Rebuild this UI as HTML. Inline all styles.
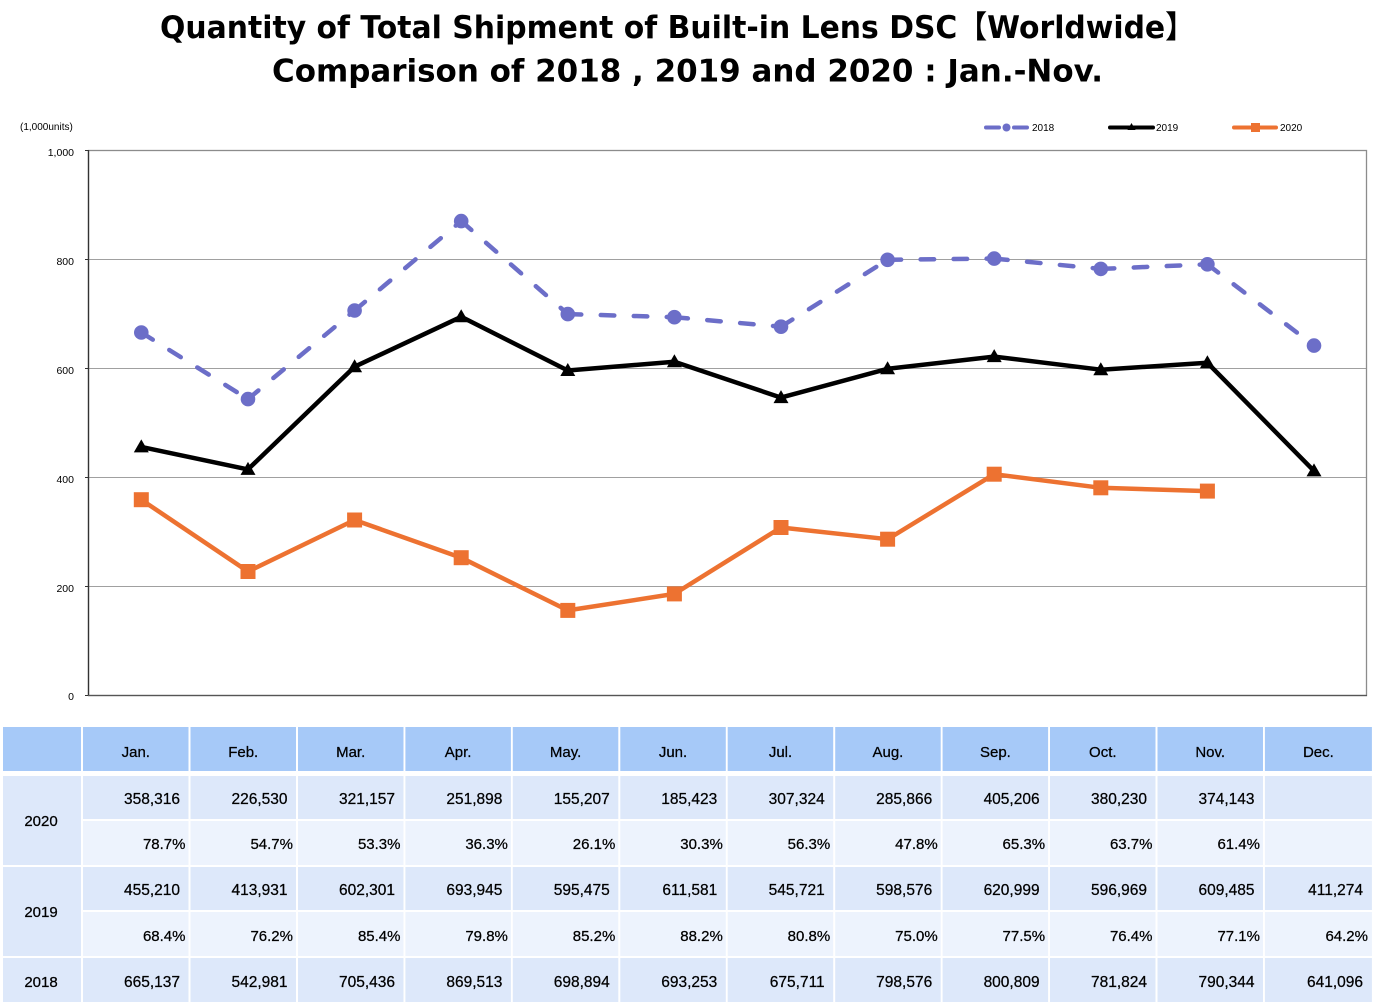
<!DOCTYPE html>
<html>
<head>
<meta charset="utf-8">
<style>
html,body{margin:0;padding:0;background:#fff;}
svg{display:block;}
</style>
</head>
<body>
<svg width="1380" height="1006" viewBox="0 0 1380 1006" xmlns="http://www.w3.org/2000/svg">
<rect x="0" y="0" width="1380" height="1006" fill="#fff"/>
<!-- Title -->
<text x="160" y="38" font-family="'DejaVu Sans','Noto Sans CJK JP',sans-serif" font-weight="bold" font-size="31" textLength="1035" lengthAdjust="spacingAndGlyphs" fill="#000">Quantity of Total Shipment of Built-in Lens DSC【Worldwide】</text>
<text x="272" y="81.5" font-family="'DejaVu Sans','Noto Sans CJK JP',sans-serif" font-weight="bold" font-size="31" textLength="831" lengthAdjust="spacingAndGlyphs" fill="#000">Comparison of 2018 , 2019 and 2020 : Jan.-Nov.</text>

<!-- unit label -->
<text x="20" y="130" font-family="'Liberation Sans',sans-serif" font-size="10" fill="#000">(1,000units)</text>

<!-- Legend -->
<g>
  <line x1="986" y1="127.5" x2="999" y2="127.5" stroke="#6c6ec8" stroke-width="4" stroke-linecap="round"/>
  <line x1="1014" y1="127.5" x2="1027" y2="127.5" stroke="#6c6ec8" stroke-width="4" stroke-linecap="round"/>
  <circle cx="1006.5" cy="127.5" r="4" fill="#6c6ec8"/>
  <text x="1032" y="131" font-family="'Liberation Sans',sans-serif" font-size="10" fill="#000">2018</text>
  <line x1="1110" y1="127.5" x2="1153" y2="127.5" stroke="#000" stroke-width="4" stroke-linecap="round"/>
  <polygon points="1131.5,123 1135.5,130 1127.5,130" fill="#000"/>
  <text x="1156" y="131" font-family="'Liberation Sans',sans-serif" font-size="10" fill="#000">2019</text>
  <line x1="1234" y1="127.5" x2="1276" y2="127.5" stroke="#ed7231" stroke-width="4" stroke-linecap="round"/>
  <rect x="1251" y="123" width="9" height="9" fill="#ed7231"/>
  <text x="1280" y="131" font-family="'Liberation Sans',sans-serif" font-size="10" fill="#000">2020</text>
</g>

<!-- Gridlines -->
<g stroke="#a0a0a0" stroke-width="1">
  <line x1="88" y1="259.5" x2="1367" y2="259.5"/>
  <line x1="88" y1="368.5" x2="1367" y2="368.5"/>
  <line x1="88" y1="477.5" x2="1367" y2="477.5"/>
  <line x1="88" y1="586.5" x2="1367" y2="586.5"/>
</g>
<!-- Plot border -->
<rect x="88.5" y="150.5" width="1278" height="545" fill="none" stroke="#8c8c8c" stroke-width="1.3"/>
<line x1="88.5" y1="150" x2="88.5" y2="696" stroke="#333" stroke-width="1.3"/>
<line x1="88" y1="695.5" x2="1367" y2="695.5" stroke="#555" stroke-width="1.3"/>
<g stroke="#333" stroke-width="1">
  <line x1="85" y1="150.5" x2="88" y2="150.5"/>
  <line x1="85" y1="259.5" x2="88" y2="259.5"/>
  <line x1="85" y1="368.5" x2="88" y2="368.5"/>
  <line x1="85" y1="477.5" x2="88" y2="477.5"/>
  <line x1="85" y1="586.5" x2="88" y2="586.5"/>
  <line x1="85" y1="695.5" x2="88" y2="695.5"/>
</g>

<!-- Y labels -->
<g font-family="'Liberation Sans',sans-serif" font-size="10.5" fill="#000" text-anchor="end">
  <text x="74" y="156">1,000</text>
  <text x="74" y="265">800</text>
  <text x="74" y="374">600</text>
  <text x="74" y="483">400</text>
  <text x="74" y="592">200</text>
  <text x="74" y="700">0</text>
</g>

<!-- 2018 dashed series (per segment) -->
<g stroke="#6c6ec8" stroke-width="4.5" stroke-linecap="round" stroke-dasharray="13.5 19.5" fill="none">
  <line x1="141.3" y1="332.5" x2="248" y2="399.1"/>
  <line x1="248" y1="399.1" x2="354.6" y2="310.5"/>
  <line x1="354.6" y1="310.5" x2="461.2" y2="221.1"/>
  <line x1="461.2" y1="221.1" x2="567.8" y2="314.1"/>
  <line x1="567.8" y1="314.1" x2="674.4" y2="317.2"/>
  <line x1="674.4" y1="317.2" x2="781" y2="326.7"/>
  <line x1="781" y1="326.7" x2="887.6" y2="259.8"/>
  <line x1="887.6" y1="259.8" x2="994.2" y2="258.6"/>
  <line x1="994.2" y1="258.6" x2="1100.8" y2="268.9"/>
  <line x1="1100.8" y1="268.9" x2="1207.4" y2="264.3"/>
  <line x1="1207.4" y1="264.3" x2="1314" y2="345.6"/>
</g>
<g fill="#6c6ec8">
  <circle cx="141.3" cy="332.5" r="7.3"/>
  <circle cx="248" cy="399.1" r="7.3"/>
  <circle cx="354.6" cy="310.5" r="7.3"/>
  <circle cx="461.2" cy="221.1" r="7.3"/>
  <circle cx="567.8" cy="314.1" r="7.3"/>
  <circle cx="674.4" cy="317.2" r="7.3"/>
  <circle cx="781" cy="326.7" r="7.3"/>
  <circle cx="887.6" cy="259.8" r="7.3"/>
  <circle cx="994.2" cy="258.6" r="7.3"/>
  <circle cx="1100.8" cy="268.9" r="7.3"/>
  <circle cx="1207.4" cy="264.3" r="7.3"/>
  <circle cx="1314" cy="345.6" r="7.3"/>
</g>

<!-- 2019 series -->
<polyline fill="none" stroke="#000" stroke-width="4.5" stroke-linejoin="round" points="141.3,446.9 248,469.4 354.6,366.7 461.2,316.8 567.8,370.5 674.4,361.7 781,397.6 887.6,368.8 994.2,356.6 1100.8,369.7 1207.4,362.8 1314,470.9"/>
<g fill="#000">
  <polygon points="141.3,439.4 148.8,452.4 133.8,452.4"/>
  <polygon points="248,461.9 255.5,474.9 240.5,474.9"/>
  <polygon points="354.6,359.2 362.1,372.2 347.1,372.2"/>
  <polygon points="461.2,309.3 468.7,322.3 453.7,322.3"/>
  <polygon points="567.8,363 575.3,376 560.3,376"/>
  <polygon points="674.4,354.2 681.9,367.2 666.9,367.2"/>
  <polygon points="781,390.1 788.5,403.1 773.5,403.1"/>
  <polygon points="887.6,361.3 895.1,374.3 880.1,374.3"/>
  <polygon points="994.2,349.1 1001.7,362.1 986.7,362.1"/>
  <polygon points="1100.8,362.2 1108.3,375.2 1093.3,375.2"/>
  <polygon points="1207.4,355.3 1214.9,368.3 1199.9,368.3"/>
  <polygon points="1314,463.4 1321.5,476.4 1306.5,476.4"/>
</g>

<!-- 2020 series -->
<polyline fill="none" stroke="#ed7231" stroke-width="4.5" stroke-linejoin="round" points="141.3,499.7 248,571.5 354.6,520 461.2,557.7 567.8,610.4 674.4,593.9 781,527.5 887.6,539.2 994.2,474.2 1100.8,487.8 1207.4,491.1"/>
<g fill="#ed7231">
  <rect x="133.8" y="492.2" width="15" height="15"/>
  <rect x="240.5" y="564" width="15" height="15"/>
  <rect x="347.1" y="512.5" width="15" height="15"/>
  <rect x="453.7" y="550.2" width="15" height="15"/>
  <rect x="560.3" y="602.9" width="15" height="15"/>
  <rect x="666.9" y="586.4" width="15" height="15"/>
  <rect x="773.5" y="520" width="15" height="15"/>
  <rect x="880.1" y="531.7" width="15" height="15"/>
  <rect x="986.7" y="466.7" width="15" height="15"/>
  <rect x="1093.3" y="480.3" width="15" height="15"/>
  <rect x="1199.9" y="483.6" width="15" height="15"/>
</g>

<!-- TABLE -->
<g fill="#a6c9f8">
  <rect x="3" y="727" width="78" height="44"/>
  <rect x="83" y="727" width="105.5" height="44"/>
  <rect x="190.5" y="727" width="105.5" height="44"/>
  <rect x="298" y="727" width="105.5" height="44"/>
  <rect x="405.4" y="727" width="105.5" height="44"/>
  <rect x="512.8" y="727" width="105.5" height="44"/>
  <rect x="620.3" y="727" width="105.5" height="44"/>
  <rect x="727.7" y="727" width="105.5" height="44"/>
  <rect x="835.2" y="727" width="105.5" height="44"/>
  <rect x="942.6" y="727" width="105.5" height="44"/>
  <rect x="1050" y="727" width="105.5" height="44"/>
  <rect x="1157.5" y="727" width="105.5" height="44"/>
  <rect x="1264.9" y="727" width="107" height="44"/>
</g>
<g fill="#dde8fa">
  <rect x="3" y="776" width="78" height="89"/>
  <rect x="3" y="867" width="78" height="89"/>
  <rect x="3" y="958" width="78" height="44"/>
</g>
<g fill="#dde8fa">
  <rect x="83" y="776" width="105.5" height="43"/><rect x="190.5" y="776" width="105.5" height="43"/><rect x="298" y="776" width="105.5" height="43"/><rect x="405.4" y="776" width="105.5" height="43"/><rect x="512.8" y="776" width="105.5" height="43"/><rect x="620.3" y="776" width="105.5" height="43"/><rect x="727.7" y="776" width="105.5" height="43"/><rect x="835.2" y="776" width="105.5" height="43"/><rect x="942.6" y="776" width="105.5" height="43"/><rect x="1050" y="776" width="105.5" height="43"/><rect x="1157.5" y="776" width="105.5" height="43"/><rect x="1264.9" y="776" width="107" height="43"/>
  <rect x="83" y="867" width="105.5" height="43"/><rect x="190.5" y="867" width="105.5" height="43"/><rect x="298" y="867" width="105.5" height="43"/><rect x="405.4" y="867" width="105.5" height="43"/><rect x="512.8" y="867" width="105.5" height="43"/><rect x="620.3" y="867" width="105.5" height="43"/><rect x="727.7" y="867" width="105.5" height="43"/><rect x="835.2" y="867" width="105.5" height="43"/><rect x="942.6" y="867" width="105.5" height="43"/><rect x="1050" y="867" width="105.5" height="43"/><rect x="1157.5" y="867" width="105.5" height="43"/><rect x="1264.9" y="867" width="107" height="43"/>
  <rect x="83" y="958" width="105.5" height="44"/><rect x="190.5" y="958" width="105.5" height="44"/><rect x="298" y="958" width="105.5" height="44"/><rect x="405.4" y="958" width="105.5" height="44"/><rect x="512.8" y="958" width="105.5" height="44"/><rect x="620.3" y="958" width="105.5" height="44"/><rect x="727.7" y="958" width="105.5" height="44"/><rect x="835.2" y="958" width="105.5" height="44"/><rect x="942.6" y="958" width="105.5" height="44"/><rect x="1050" y="958" width="105.5" height="44"/><rect x="1157.5" y="958" width="105.5" height="44"/><rect x="1264.9" y="958" width="107" height="44"/>
</g>
<g fill="#edf3fd">
  <rect x="83" y="821" width="105.5" height="44"/><rect x="190.5" y="821" width="105.5" height="44"/><rect x="298" y="821" width="105.5" height="44"/><rect x="405.4" y="821" width="105.5" height="44"/><rect x="512.8" y="821" width="105.5" height="44"/><rect x="620.3" y="821" width="105.5" height="44"/><rect x="727.7" y="821" width="105.5" height="44"/><rect x="835.2" y="821" width="105.5" height="44"/><rect x="942.6" y="821" width="105.5" height="44"/><rect x="1050" y="821" width="105.5" height="44"/><rect x="1157.5" y="821" width="105.5" height="44"/><rect x="1264.9" y="821" width="107" height="44"/>
  <rect x="83" y="912" width="105.5" height="44"/><rect x="190.5" y="912" width="105.5" height="44"/><rect x="298" y="912" width="105.5" height="44"/><rect x="405.4" y="912" width="105.5" height="44"/><rect x="512.8" y="912" width="105.5" height="44"/><rect x="620.3" y="912" width="105.5" height="44"/><rect x="727.7" y="912" width="105.5" height="44"/><rect x="835.2" y="912" width="105.5" height="44"/><rect x="942.6" y="912" width="105.5" height="44"/><rect x="1050" y="912" width="105.5" height="44"/><rect x="1157.5" y="912" width="105.5" height="44"/><rect x="1264.9" y="912" width="107" height="44"/>
</g>

<!-- header text -->
<g font-family="'Liberation Sans',sans-serif" font-size="15" fill="#000" stroke="#000" stroke-width="0.25" text-anchor="middle">
  <text x="135.8" y="757">Jan.</text>
  <text x="243.2" y="757">Feb.</text>
  <text x="350.7" y="757">Mar.</text>
  <text x="458.1" y="757">Apr.</text>
  <text x="565.6" y="757">May.</text>
  <text x="673" y="757">Jun.</text>
  <text x="780.5" y="757">Jul.</text>
  <text x="887.9" y="757">Aug.</text>
  <text x="995.4" y="757">Sep.</text>
  <text x="1102.8" y="757">Oct.</text>
  <text x="1210.2" y="757">Nov.</text>
  <text x="1318.4" y="757">Dec.</text>
  <text x="41" y="826">2020</text>
  <text x="41" y="917">2019</text>
  <text x="41" y="987">2018</text>
</g>

<!-- numbers -->
<g font-family="'Liberation Sans',sans-serif" font-size="15.5" fill="#000" stroke="#000" stroke-width="0.25" text-anchor="end">
  <text x="180" y="804">358,316</text><text x="287.5" y="804">226,530</text><text x="395" y="804">321,157</text><text x="502.4" y="804">251,898</text><text x="609.8" y="804">155,207</text><text x="717.3" y="804">185,423</text><text x="824.7" y="804">307,324</text><text x="932.2" y="804">285,866</text><text x="1039.6" y="804">405,206</text><text x="1147" y="804">380,230</text><text x="1254.5" y="804">374,143</text>
  <text x="180" y="895">455,210</text><text x="287.5" y="895">413,931</text><text x="395" y="895">602,301</text><text x="502.4" y="895">693,945</text><text x="609.8" y="895">595,475</text><text x="717.3" y="895">611,581</text><text x="824.7" y="895">545,721</text><text x="932.2" y="895">598,576</text><text x="1039.6" y="895">620,999</text><text x="1147" y="895">596,969</text><text x="1254.5" y="895">609,485</text><text x="1363" y="895">411,274</text>
  <text x="180" y="987">665,137</text><text x="287.5" y="987">542,981</text><text x="395" y="987">705,436</text><text x="502.4" y="987">869,513</text><text x="609.8" y="987">698,894</text><text x="717.3" y="987">693,253</text><text x="824.7" y="987">675,711</text><text x="932.2" y="987">798,576</text><text x="1039.6" y="987">800,809</text><text x="1147" y="987">781,824</text><text x="1254.5" y="987">790,344</text><text x="1363" y="987">641,096</text>
</g>
<!-- percents -->
<g font-family="'Liberation Sans',sans-serif" font-size="15" fill="#000" stroke="#000" stroke-width="0.25" text-anchor="end">
  <text x="185.5" y="849">78.7%</text><text x="293" y="849">54.7%</text><text x="400.5" y="849">53.3%</text><text x="507.9" y="849">36.3%</text><text x="615.3" y="849">26.1%</text><text x="722.8" y="849">30.3%</text><text x="830.2" y="849">56.3%</text><text x="937.7" y="849">47.8%</text><text x="1045.1" y="849">65.3%</text><text x="1152.5" y="849">63.7%</text><text x="1260" y="849">61.4%</text>
  <text x="185.5" y="941">68.4%</text><text x="293" y="941">76.2%</text><text x="400.5" y="941">85.4%</text><text x="507.9" y="941">79.8%</text><text x="615.3" y="941">85.2%</text><text x="722.8" y="941">88.2%</text><text x="830.2" y="941">80.8%</text><text x="937.7" y="941">75.0%</text><text x="1045.1" y="941">77.5%</text><text x="1152.5" y="941">76.4%</text><text x="1260" y="941">77.1%</text><text x="1368" y="941">64.2%</text>
</g>
</svg>
</body>
</html>
